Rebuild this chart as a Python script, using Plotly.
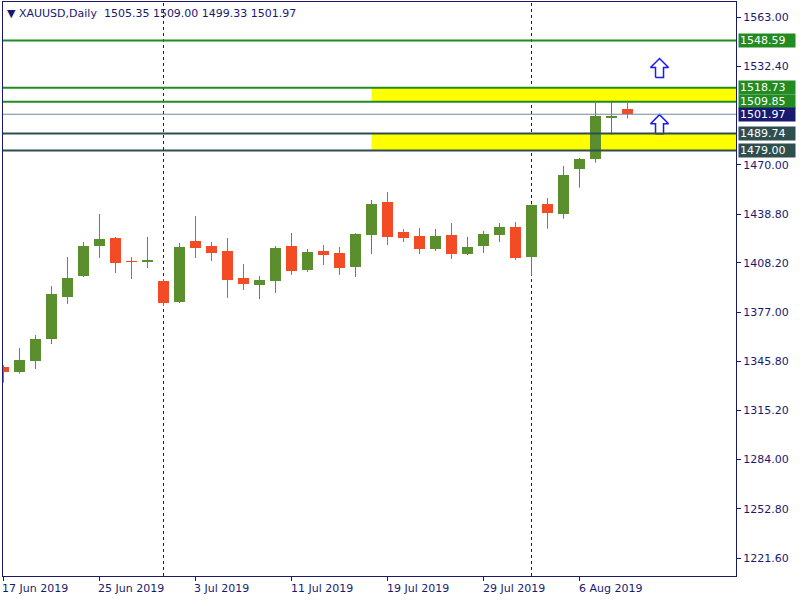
import plotly.graph_objects as go

# ---------------- data ----------------
dates = [
    "2019-06-17", "2019-06-18", "2019-06-19", "2019-06-20", "2019-06-21",
    "2019-06-24", "2019-06-25", "2019-06-26", "2019-06-27", "2019-06-28",
    "2019-07-01", "2019-07-02", "2019-07-03", "2019-07-04", "2019-07-05",
    "2019-07-08", "2019-07-09", "2019-07-10", "2019-07-11", "2019-07-12",
    "2019-07-15", "2019-07-16", "2019-07-17", "2019-07-18", "2019-07-19",
    "2019-07-22", "2019-07-23", "2019-07-24", "2019-07-25", "2019-07-26",
    "2019-07-29", "2019-07-30", "2019-07-31", "2019-08-01", "2019-08-02",
    "2019-08-05", "2019-08-06", "2019-08-07", "2019-08-08", "2019-08-09",
]
opens = [1342.6, 1339.4, 1346.2, 1360.1, 1386.6, 1399.8, 1418.8, 1423.8, 1409.3, 1409.3,
         1396.7, 1383.4, 1421.9, 1418.8, 1415.6, 1398.6, 1394.2, 1396.7, 1418.8, 1403.6,
         1415.6, 1414.4, 1405.5, 1425.7, 1446.6, 1427.6, 1425.1, 1416.9, 1425.7, 1413.7,
         1418.8, 1425.7, 1430.8, 1412.0, 1445.3, 1439.2, 1467.6, 1473.9, 1499.8, 1505.35]
highs = [1343.6, 1354.4, 1362.6, 1393.5, 1411.8, 1421.3, 1439.0, 1424.5, 1411.8, 1424.5,
         1397.9, 1420.7, 1437.7, 1421.3, 1423.8, 1407.4, 1399.8, 1418.8, 1427.0, 1416.9,
         1419.4, 1418.2, 1426.8, 1447.8, 1452.9, 1429.5, 1430.1, 1429.5, 1433.3, 1424.5,
         1428.3, 1433.3, 1433.9, 1445.0, 1449.1, 1469.3, 1474.4, 1509.3, 1510.0, 1509.00]
lows = [1332.5, 1338.2, 1341.1, 1356.9, 1382.2, 1399.2, 1411.2, 1401.7, 1397.9, 1404.9,
        1380.9, 1382.8, 1411.2, 1409.3, 1386.0, 1391.0, 1385.3, 1389.1, 1400.5, 1402.4,
        1406.8, 1400.5, 1399.2, 1413.7, 1419.4, 1421.3, 1413.7, 1415.6, 1410.6, 1413.1,
        1414.4, 1421.3, 1409.9, 1400.0, 1429.7, 1436.0, 1455.6, 1471.4, 1489.1, 1499.33]
closes = [1339.4, 1346.8, 1360.1, 1388.5, 1398.6, 1418.8, 1423.2, 1408.1, 1408.7, 1409.9,
          1382.8, 1418.2, 1417.5, 1414.4, 1397.3, 1394.8, 1397.3, 1417.5, 1403.0, 1415.0,
          1413.1, 1404.9, 1426.4, 1445.3, 1424.5, 1423.8, 1416.9, 1425.1, 1413.7, 1418.2,
          1426.4, 1430.8, 1411.2, 1444.7, 1439.8, 1463.6, 1473.7, 1501.1, 1501.1, 1501.97]

tick_dates = ["2019-06-17", "2019-06-25", "2019-07-03", "2019-07-11",
              "2019-07-19", "2019-07-29", "2019-08-06"]
tick_labels = ["17 Jun 2019", "25 Jun 2019", "3 Jul 2019", "11 Jul 2019",
               "19 Jul 2019", "29 Jul 2019", "6 Aug 2019"]
price_ticks = [1563.00, 1532.40, 1470.00, 1438.80, 1408.20, 1377.00,
               1345.80, 1315.20, 1284.00, 1252.80, 1221.60]

separator_dates = ["2019-07-01", "2019-08-01"]
zone_start_date = "2019-07-18"
resistance_levels = [1548.59, 1518.73, 1509.85]
support_levels = [1489.74, 1479.00]
bid_price = 1501.97
zones = [(1509.85, 1518.73), (1479.00, 1489.74)]
arrow_bar_offsets = [41, 41]
arrow_prices = [1525.2, 1489.7]

title_text = "XAUUSD,Daily\u00a0\u00a01505.35 1509.00 1499.33 1501.97"

# ---------------- style ----------------
UP = "#5b8f2e"
DOWN = "#f34b25"
NAVY = "#191970"
GREEN_LVL = "#228b22"
SLATE = "#2f4f4f"
FONT = "DejaVu Sans"

W, H = 800, 600
ML, MR, MT, MB = 3, 64, 2, 24
xr = [-0.03, 45.78]
yr = [1210.42, 1572.84]
px_x = (W - ML - MR) / (xr[1] - xr[0])
px_y = (H - MT - MB) / (yr[1] - yr[0])

idx = list(range(len(dates)))
pos = {d: i for i, d in enumerate(dates)}

fig = go.Figure()

# wicks
for up in (True, False):
    xs, ys = [], []
    for i in idx:
        if (closes[i] >= opens[i]) == up:
            xs += [i, i, None]
            ys += [lows[i], highs[i], None]
    fig.add_trace(go.Scatter(x=xs, y=ys, mode="lines",
                             line=dict(color=UP if up else DOWN, width=1),
                             hoverinfo="skip", showlegend=False))

# bodies
fig.add_trace(go.Bar(
    x=idx,
    y=[max(abs(c - o), 0.5) for o, c in zip(opens, closes)],
    base=[min(o, c) for o, c in zip(opens, closes)],
    width=0.69,
    marker=dict(color=[UP if c >= o else DOWN for o, c in zip(opens, closes)],
                line=dict(width=0)),
    showlegend=False, hoverinfo="skip"))

# arrows
shape_px = [(-4, 0), (4, 0), (4, 10), (9, 10), (0, 19), (-9, 10), (-4, 10), (-4, 0)]
for ax_, ap in zip(arrow_bar_offsets, arrow_prices):
    fig.add_trace(go.Scatter(
        x=[ax_ + dx / px_x for dx, dy in shape_px],
        y=[ap + dy / px_y for dx, dy in shape_px],
        mode="lines", fill="toself", fillcolor="white",
        line=dict(color="#1a1aff", width=1.5),
        hoverinfo="skip", showlegend=False))

shapes = []
for lo, hi in zones:
    shapes.append(dict(type="rect", xref="x", yref="y", x0=pos[zone_start_date], x1=xr[1],
                       y0=lo, y1=hi, fillcolor="#ffff00", line=dict(width=0), layer="below"))
for d in separator_dates:
    shapes.append(dict(type="line", xref="x", yref="paper", x0=pos[d], x1=pos[d], y0=0, y1=1,
                       line=dict(color=NAVY, width=1, dash="3px,3px"), layer="below"))
for lv in resistance_levels:
    shapes.append(dict(type="line", xref="paper", yref="y", x0=0, x1=1, y0=lv, y1=lv,
                       line=dict(color=GREEN_LVL, width=2)))
for lv in support_levels:
    shapes.append(dict(type="line", xref="paper", yref="y", x0=0, x1=1, y0=lv, y1=lv,
                       line=dict(color=SLATE, width=2)))
shapes.append(dict(type="line", xref="paper", yref="y", x0=0, x1=1, y0=bid_price, y1=bid_price,
                   line=dict(color="#778899", width=1)))

annotations = []
label_specs = [(lv, GREEN_LVL) for lv in resistance_levels] + \
              [(bid_price, NAVY)] + [(lv, SLATE) for lv in support_levels]
for lv, col in label_specs:
    annotations.append(dict(xref="paper", yref="y", x=1, y=lv, xanchor="left", yanchor="middle",
                            xshift=2, text=f"{lv:.2f}", showarrow=False, align="left",
                            bgcolor=col, width=54, height=11, borderpad=1,
                            font=dict(family=FONT, size=11, color="white")))
for d, t in zip(tick_dates, tick_labels):
    annotations.append(dict(xref="x", yref="paper", x=pos[d], y=0, xanchor="left", yanchor="top",
                            xshift=-3, yshift=-4, text=t, showarrow=False,
                            font=dict(family=FONT, size=11, color=NAVY)))
annotations.append(dict(xref="paper", yref="paper", x=0, y=1, xanchor="left", yanchor="top",
                        xshift=2, yshift=-3, text="\u25bc\u00a0" + title_text, showarrow=False,
                        font=dict(family=FONT, size=11, color=NAVY)))

fig.update_layout(
    width=W, height=H,
    margin=dict(l=ML, r=MR, t=MT, b=MB, pad=0),
    paper_bgcolor="white", plot_bgcolor="white",
    shapes=shapes, annotations=annotations,
    bargap=0, showlegend=False,
    xaxis=dict(range=xr, showgrid=False, zeroline=False, showline=True, mirror=True,
               linecolor=NAVY, linewidth=1, ticks="outside", ticklen=4, tickcolor=NAVY,
               tickvals=[pos[d] for d in tick_dates], showticklabels=False, fixedrange=True),
    yaxis=dict(range=yr, side="right", showgrid=False, zeroline=False, showline=True,
               mirror=True, linecolor=NAVY, linewidth=1, ticks="outside", ticklen=4,
               tickcolor=NAVY, tickvals=price_ticks,
               ticktext=[f"{v:.2f}" for v in price_ticks],
               tickfont=dict(family=FONT, size=11, color=NAVY), fixedrange=True),
)

fig.write_html("out.html", config={"displayModeBar": False},
               post_script="document.body.style.margin='0';document.body.style.overflow='hidden';")
